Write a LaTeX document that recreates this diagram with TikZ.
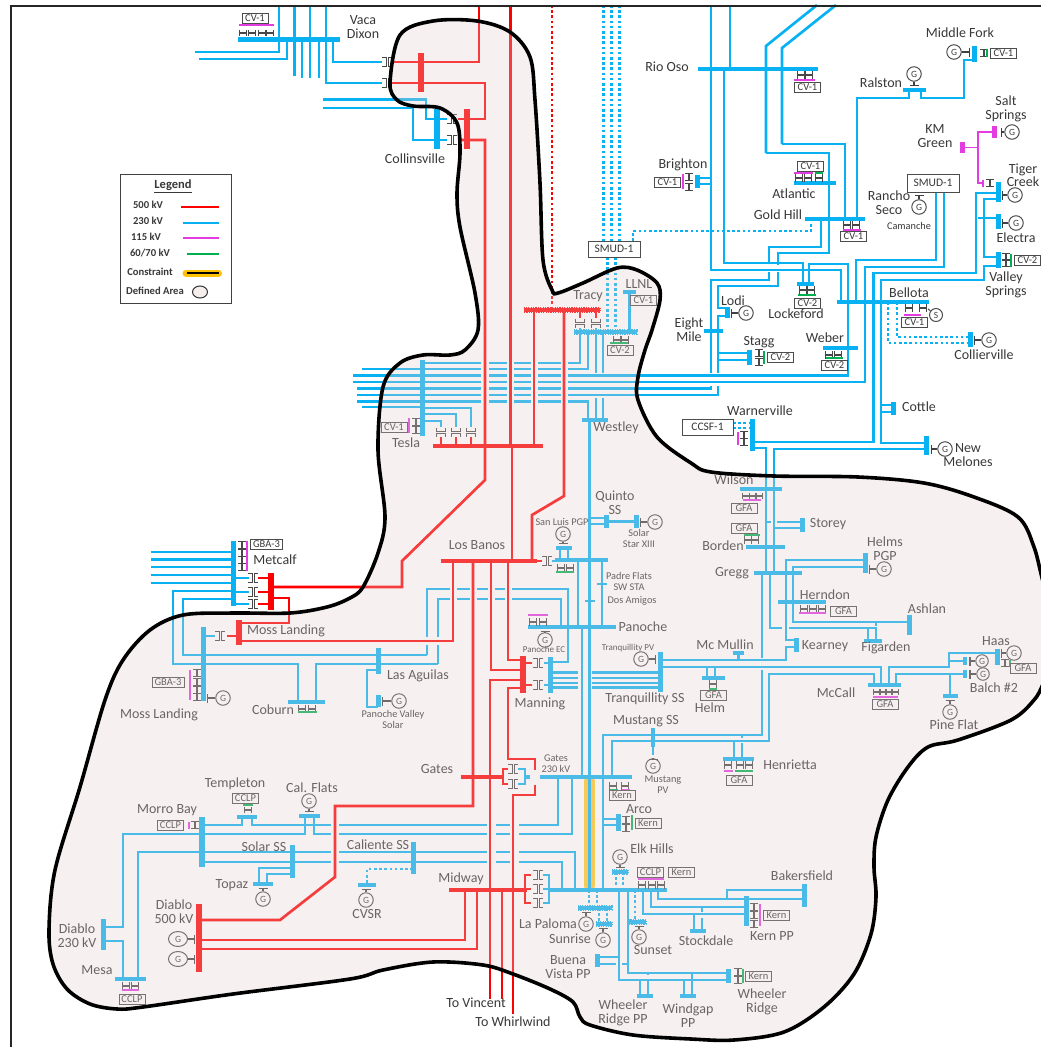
\documentclass[tikz,border=0pt]{standalone}
\usepackage{fontspec}
\setmainfont{Carlito}
\usetikzlibrary{arrows.meta,shapes.geometric}
\definecolor{lineb}{HTML}{08B2F2}
\definecolor{liner}{HTML}{FF0000}
\definecolor{linem}{HTML}{E33CE3}
\definecolor{lineg}{HTML}{00B050}
\definecolor{areatint}{RGB}{228,205,205}
\definecolor{gold}{HTML}{FFC000}
\tikzset{
    xfh/.pic={\draw[xfline] (-5,-4.5) -- (-1,-4.5) -- (-1,4.5) -- (-5,4.5) (5,-4.5) -- (1,-4.5) -- (1,4.5) -- (5,4.5);},
    xfv/.pic={\draw[xfline] (-4.5,-4.5) -- (-4.5,-1) -- (4.5,-1) -- (4.5,-4.5) (-4.5,4.5) -- (-4.5,1) -- (4.5,1) -- (4.5,4.5);}
}
\begin{document}
\begin{tikzpicture}[
        x=1pt, y=-1pt,
        lb/.style={draw=lineb, line width=2.7pt},
        lbdot/.style={lb, line width=2.8pt, dash pattern=on 2.6pt off 2.6pt},
        lr/.style={draw=liner, line width=2.7pt},
        lrdot/.style={lr, line width=2.8pt, dash pattern=on 2.6pt off 2.6pt},
        lm/.style={draw=linem, line width=1.2pt},
        hop/.style={draw=white, line width=#1},
        xfline/.style={draw=black!72, line width=1pt},
        bus/.style={rectangle, inner sep=0pt, outer sep=0pt},
        hb/.style={bus, fill=lineb, minimum width=#1, minimum height=4.5pt},
        vb/.style={bus, fill=lineb, minimum height=#1, minimum width=5pt},
        rhb/.style={bus, fill=liner, minimum width=#1, minimum height=4.5pt},
        rvb/.style={bus, fill=liner, minimum height=#1, minimum width=5.5pt},
        mvb/.style={bus, fill=linem, minimum height=#1, minimum width=2pt},
        mhb/.style={bus, fill=linem, minimum width=#1, minimum height=2pt},
        gvb/.style={bus, fill=lineg, minimum height=#1, minimum width=2pt},
        ghb/.style={bus, fill=lineg, minimum width=#1, minimum height=2pt},
        tooth/.style={draw=#1, line width=.8pt, dash pattern=on 1.2pt off 1.2pt},
        gen/.style={circle, draw=black!70, line width=1pt, minimum size=14.5pt, inner sep=0pt, font=\fontsize{9.5}{10}\selectfont, text=black!75},
        genw/.style={gen, ellipse, minimum width=19pt, minimum height=15pt},
        gs/.style={draw=black!75, line width=1.2pt, -{Bar[width=9pt,line width=1.3pt]}, shorten >=4pt},
        lab/.style={font=\fontsize{14}{13}\selectfont, text=black!78, align=center, inner sep=0pt},
        slab/.style={lab, font=\fontsize{10.3}{11}\selectfont},
        tlab/.style={lab, font=\fontsize{9}{10}\selectfont},
        tag/.style={rectangle, draw=black!70, fill=white, line width=.8pt, inner sep=0pt, minimum width=26pt, minimum height=10pt, text=black!78, font=\fontsize{10.5}{10}\selectfont},
        wtag/.style={tag, minimum width=#1, font=\fontsize{11.5}{10}\selectfont},
        leg/.style={lab, font=\bfseries\fontsize{10.6}{11}\selectfont}
    ]
    \useasboundingbox (0,0) rectangle (1041,1047);
    \clip (0,0) rectangle (1041,1047);

    \draw[gold!85!white, line width=11pt, line cap=round] (589,781) -- (589,886);

    \node[hb=102] (vacaDixon) at (289,39.5) {};
    \node[vb=40, minimum width=5.5pt] (collinsBlue) at (437,129) {};
    \node[rvb=40] (collinsRed) at (467,129) {};
    \node[rvb=39] (vacaRed) at (421,72.5) {};
    \node[vb=65] (metcalfBlue) at (233,573.5) {};
    \node[rvb=37] (metcalfRed) at (271,591.5) {};
    \node[rvb=25] (mossRed) at (239,632.5) {};
    \node[vb=74] (mossBlue) at (203,664) {};
    \node[hb=37] (coburn) at (306.5,702) {};
    \node[vb=26] (lasAguilas) at (378,661) {};
    \node[vb=12] (panocheSolar) at (378,701) {};
    \node[vb=76] (tesla) at (422,398) {};
    \node[rhb=110] (teslaRed) at (488,446) {};
    \node[rhb=76, tooth=liner] (tracyRed) at (562,310) {};
    \node[hb=63, tooth=lineb] (tracyBlue) at (605.5,332) {};
    \node[hb=13] (llnl) at (629.5,292) {};
    \node[hb=26] (westley) at (595,420) {};
    \node[rhb=96] (losBanos) at (489,561) {};
    \node[hb=53] (losBanosBlue) at (581.5,560) {};
    \node[hb=16] (sanLuis) at (564,548) {};
    \node[vb=13] (quinto) at (606,521.5) {};
    \node[vb=13] (solarStar) at (636,521.5) {};
    \node[hb=88] (panoche) at (572,627) {};
    \node[rvb=37] (manningRed) at (523,674.5) {};
    \node[vb=36] (manningBlue) at (550,675) {};
    \node[vb=40] (tranq) at (660,672) {};
    \node[hb=120] (rioOso) at (758,69) {};
    \node[hb=23] (ralston) at (914.5,90) {};
    \node[vb=16] (middleFork) at (974,54) {};
    \node[bus, fill=linem, minimum width=5pt, minimum height=12pt] (saltSprings) at (994,132) {};
    \node[bus, fill=linem, minimum width=5pt, minimum height=11pt] (kmGreen) at (962,147.5) {};
    \node[vb=20] (tigerCreek) at (998,192) {};
    \node[vb=15] (electra) at (998,221.5) {};
    \node[vb=16] (valleySprings) at (998,260) {};
    \node[hb=42] (atlantic) at (815,183) {};
    \node[hb=60] (goldHill) at (835,219) {};
    \node[vb=13] (brighton) at (697,181.5) {};
    \node[hb=17] (lockeford) at (805.5,284) {};
    \node[hb=92] (bellota) at (883,302) {};
    \node[hb=35] (weber) at (840.5,348) {};
    \node[vb=15] (collierville) at (970,339.5) {};
    \node[vb=11] (lodi) at (727,312.5) {};
    \node[hb=19] (eightMile) at (713.5,331) {};
    \node[vb=15] (stagg) at (749,357.5) {};
    \node[vb=13] (cottle) at (893,408.5) {};
    \node[vb=19] (newMelones) at (926.7,445.5) {};
    \node[vb=32] (warnerville) at (752,435) {};
    \node[hb=42] (wilson) at (761,489) {};
    \node[hb=39] (borden) at (765.5,547) {};
    \node[hb=48] (gregg) at (778,573) {};
    \node[vb=14] (storey) at (802,525) {};
    \node[vb=20] (helms) at (865,563) {};
    \node[hb=48] (herndon) at (802,602) {};
    \node[vb=20] (ashlan) at (909,625) {};
    \node[hb=18] (figarden) at (873,641) {};
    \node[vb=14] (kearney) at (796,645) {};
    \node[hb=11] (mcMullin) at (738.5,653) {};
    \node[hb=23] (helm) at (713.5,678) {};
    \node[hb=33] (mcCall) at (884.5,685) {};
    \node[vb=16] (haas) at (997,657) {};
    \node[vb=8, minimum width=3.5pt] (balchA) at (965,661) {};
    \node[vb=8, minimum width=3.5pt] (balchB) at (965,674) {};
    \node[hb=15] (pineFlat) at (950.5,696) {};
    \node[vb=19, minimum width=4pt] (mustang) at (653,737.5) {};
    \node[hb=31] (henrietta) at (738.5,759) {};
    \node[rhb=42] (gatesRed) at (482,777) {};
    \node[hb=107] (gatesBlue) at (578.5,777) {};
    \node[vb=17] (arco) at (618,822.5) {};
    \node[rhb=78] (midwayRed) at (488,890) {};
    \node[hb=119] (midwayBlue) at (607.5,890) {};
    \node[hb=16, tooth=lineb] (elkHills) at (620,872) {};
    \node[hb=34, tooth=lineb] (laPaloma) at (595,908) {};
    \node[hb=16, tooth=lineb] (sunrise) at (604,924) {};
    \node[hb=17, tooth=lineb] (sunset) at (637.5,922) {};
    \node[vb=13] (buenaVista) at (597,960.5) {};
    \node[hb=16] (wheelerPP) at (645,996) {};
    \node[hb=16] (windgap) at (688,996) {};
    \node[vb=14] (wheeler) at (728,976) {};
    \node[hb=16] (stockdale) at (698,931) {};
    \node[vb=30] (kernPP) at (746,911) {};
    \node[vb=23] (bakersfield) at (804,895.5) {};
    \node[vb=50, minimum width=5.5pt] (morroBay) at (202,842) {};
    \node[hb=20] (templeton) at (247,817) {};
    \node[hb=21] (calFlats) at (309.5,816) {};
    \node[vb=33] (solarSS) at (292,861.5) {};
    \node[hb=20] (topaz) at (263,884) {};
    \node[vb=32] (calienteSS) at (413,858) {};
    \node[hb=18] (cvsr) at (367,885) {};
    \node[rvb=68] (diablo) at (199,938) {};
    \node[vb=31] (diabloLow) at (103,934.5) {};
    \node[hb=31] (mesa) at (130.5,979) {};

    \draw[lb] (279,5) -- (279,52) -- (195,52);
    \draw[lb] (287,0 |- vacaDixon) -- (287,59) -- (199,59);
    \draw[lb] (294.5,5) -- (294.5,76);
    \draw[lb] (302,0 |- vacaDixon) -- (302,78);
    \draw[lb] (310,5) -- (310,78);
    \draw[lb] (319,0 |- vacaDixon) -- (319,78);
    \draw[lb] (326,5) -- (326,83) -- (382,83);
    \draw[lb] (333,0 |- vacaDixon) -- (333,62) -- (382,62);
    \draw[lb] (323,99.5) -- (426,99.5) -- (426,119) -- (447,119);
    \draw[lb] (323,108) -- (413,108) -- (413,140) -- (447,140);

    \draw[lbdot] (603.5,5) -- (603.5,241);
    \draw[lbdot] (611.5,5) -- (611.5,241);
    \draw[lbdot] (619.5,5) -- (619.5,241);
    \draw[lbdot] (607.5,257) -- (607.5,0 |- tracyBlue);
    \draw[lbdot] (615.5,257) -- (615.5,0 |- tracyBlue);
    \draw[lbdot] (633,241) -- (633,231) -- (811,231) -- (811,0 |- goldHill);

    \draw[lb] (711,5) -- (711,270) -- (841,270) -- (841,0 |- bellota);
    \draw[lb] (730,5) -- (730,0 |- rioOso);
    \draw[lb] (724,0 |- rioOso) -- (724,263) -- (803,263) -- (803,0 |- lockeford);
    \draw[lb] (809,0 |- lockeford) -- (809,264) -- (848,264) -- (848,375.5) -- (353,375.5);
    \draw[lb] (856,0 |- bellota) -- (856,260) -- (936,260) -- (936,191);
    \draw[lb] (353,382) -- (865,382) -- (865,267) -- (944,267) -- (944,191);
    \draw[lb] (warnerville |- 0,442) -- (873.5,442) -- (873.5,273) -- (976,273) -- (976,193) -- (tigerCreek |- 0,193);
    \draw[lb] (newMelones |- 0,443) -- (881,443) -- (881,280) -- (984,280) -- (984,266) -- (valleySprings |- 0,266);
    \draw[lb] (881,405) -- (cottle |- 0,405);
    \draw[lb] (881,412) -- (cottle |- 0,412);
    \draw[lb] (tigerCreek |- 0,199) -- (984,199) -- (984,257) -- (valleySprings |- 0,257);
    \draw[lb] (978,218) -- (electra |- 0,218);
    \draw[lb] (782,144) -- (782,48) -- (836,5);
    \draw[lb] (766,153) -- (766,46) -- (817,5);
    \draw[lb] (782,144) -- (845,144) -- (845,0 |- goldHill);
    \draw[lb] (766,153) -- (829,153) -- (829,253) -- (778,253) -- (778,265);
    \draw[lb] (821,0 |- goldHill) -- (821,247) -- (769,247) -- (769,263);
    \draw[lb] (769,272) -- (769,280) -- (711,280) -- (711,373);
    \draw[lb] (711,386) -- (711,388.5) -- (357,388.5);
    \draw[lb] (778,272) -- (778,286) -- (718,286) -- (718,308) -- (lodi |- 0,308);
    \draw[lb] (lodi |- 0,316) -- (718,316) -- (718,373);
    \draw[lb] (718,386) -- (718,395) -- (357,395);
    \draw[lb] (718,353) -- (stagg |- 0,353);
    \draw[lb] (718,360) -- (stagg |- 0,360);
    \draw[lb] (brighton |- 0,178) -- (711,178);
    \draw[lb] (brighton |- 0,184) -- (711,184);
    \draw[lb] (857,0 |- goldHill) -- (857,98) -- (909,98) -- (909,0 |- ralston);
    \draw[lb] (921,0 |- ralston) -- (921,98) -- (964,98) -- (964,60) -- (middleFork |- 0,60);

    \draw[lb] (tesla |- 0,363) -- (580,363) -- (580,328);
    \draw[lb] (362,369) -- (588,369) -- (588,0 |- tracyBlue);
    \draw[lb] (596,328) -- (596,373);
    \draw[lb] (603,332) -- (603,373);
    \draw[lb] (596,398) -- (596,0 |- westley);
    \draw[lb] (603,398) -- (603,0 |- westley);
    \draw[lb] (357,401.5) -- (588,401.5) -- (588,0 |- westley);
    \draw[lb] (362,407) -- (tesla |- 0,407);
    \draw[lb] (tesla |- 0,408) -- (471,408) -- (471,427);
    \draw[lb] (tesla |- 0,414) -- (456,414) -- (456,427);
    \draw[lb] (tesla |- 0,421) -- (441,421) -- (441,427);
    \draw[lb] (llnl) -- (629.5,0 |- tracyBlue);
    \draw[lb] (589.5,0 |- westley) -- (589.5,0 |- midwayBlue);
    \draw[lb] (578,0 |- losBanosBlue) -- (578,0 |- panoche);
    \draw[lb] (582,0 |- panoche) -- (582,0 |- gatesBlue);
    \draw[lb] (602,0 |- losBanosBlue) -- (602,0 |- panoche);
    \draw[lb] (597,584) -- (607,584);
    \draw[lb] (585,601) -- (595,601);
    \draw[lb] (589.5,518) -- (quinto |- 0,518);
    \draw[lb] (589.5,524) -- (quinto |- 0,524);
    \draw[lb] (quinto) -- (solarStar);
    \draw[lb] (560,0 |- sanLuis) -- (560,0 |- losBanosBlue);
    \draw[lb] (568,0 |- sanLuis) -- (568,0 |- losBanosBlue);

    \draw[lb] (427,655) -- (427,589) -- (568,589) -- (568,662) -- (manningBlue |- 0,662);
    \draw[lb] (438,664) -- (438,599) -- (561,599) -- (561,0 |- panoche);
    \draw[lb] (427,655) -- (183,655) -- (183,599) -- (metcalfBlue |- 0,599);
    \draw[lb] (438,664) -- (316,664) -- (316,0 |- coburn);
    \draw[lb] (298,0 |- coburn) -- (298,664) -- (173,664) -- (173,591) -- (metcalfBlue |- 0,591);
    \draw[lb] (151,552) -- (metcalfBlue |- 0,552);
    \draw[lb] (151,559.5) -- (metcalfBlue |- 0,559.5);
    \draw[lb] (151,567) -- (metcalfBlue |- 0,567);
    \draw[lb] (151,575) -- (metcalfBlue |- 0,575);
    \draw[lb] (151,583) -- (metcalfBlue |- 0,583);
    \draw[lb] (metcalfBlue |- 0,578) -- (249,578);
    \draw[lb] (metcalfBlue |- 0,592) -- (249,592);
    \draw[lb] (metcalfBlue |- 0,604) -- (249,604);
    \draw[lb] (mossBlue |- 0,636) -- (215,636);
    \draw[lb] (lasAguilas |- 0,670) -- (367,670) -- (367,707) -- (panocheSolar |- 0,707);

    \draw[lb] (manningBlue |- 0,672.7) -- (578,672.7);
    \draw[lb] (manningBlue |- 0,678) -- (578,678);
    \draw[lb] (manningBlue |- 0,683) -- (578,683);
    \draw[lb] (manningBlue |- 0,687.7) -- (578,687.7);
    \draw[lb] (592,672.7) -- (tranq |- 0,672.7);
    \draw[lb] (592,678) -- (tranq |- 0,678);
    \draw[lb] (592,683) -- (tranq |- 0,683);
    \draw[lb] (592,687.7) -- (tranq |- 0,687.7);
    \draw[lb] (manningBlue |- 0,663) -- (544,663);
    \draw[lb] (manningBlue |- 0,685) -- (544,685);

    \draw[lb] (tranq |- 0,660) -- (786,660) -- (786,647) -- (kearney |- 0,647);
    \draw[lb] (kearney |- 0,640) -- (786,640) -- (786,560) -- (helms |- 0,560);
    \draw[lb] (tranq |- 0,667) -- (881,667) -- (881,0 |- mcCall);
    \draw[lb] (707,667) -- (707,0 |- helm);
    \draw[lb] (715,667) -- (715,0 |- helm);
    \draw[lb] (mcMullin) -- (738.5,660);
    \draw[lb] (ashlan |- 0,622) -- (793,622) -- (793,567) -- (helms |- 0,567);
    \draw[lb] (789,628) -- (876,628) -- (876,0 |- figarden);
    \draw[lb] (868,628) -- (868,0 |- figarden);
    \draw[lb] (876,622) -- (876,626);
    \draw[lb] (762,0 |- gregg) -- (762,658);
    \draw[lb] (762,670) -- (762,735) -- (603,735) -- (603,0 |- midwayBlue);
    \draw[lb] (770,0 |- gregg) -- (770,628) -- (782,628);
    \draw[lb] (warnerville |- 0,448) -- (766,448) -- (766,0 |- gregg);
    \draw[lb] (newMelones |- 0,449) -- (774,449) -- (774,0 |- gregg);
    \draw[lb] (766,522) -- (771,522);
    \draw[lb] (777,522) -- (storey |- 0,522);
    \draw[lb] (774,528) -- (storey |- 0,528);
    \draw[lb] (874,0 |- mcCall) -- (874,674) -- (769,674) -- (769,741) -- (612,741) -- (612,0 |- gatesBlue);
    \draw[lb] (889,0 |- mcCall) -- (889,667) -- (949,667) -- (949,653) -- (haas |- 0,653);
    \draw[lb] (949,661) -- (balchA);
    \draw[lb] (896,0 |- mcCall) -- (896,674) -- (balchB);
    \draw[lb] (950,674) -- (950,0 |- pineFlat);
    \draw[lb] (734,741) -- (734,0 |- henrietta);
    \draw[lb] (742,735) -- (742,738);
    \draw[lb] (742,743) -- (742,0 |- henrietta);
    \draw[lb] (653,747) -- (653,755);

    \draw[lb] (603,819) -- (arco |- 0,819);
    \draw[lb] (603,825) -- (arco |- 0,825);
    \draw[lb] (558,0 |- gatesBlue) -- (558,825) -- (252,825) -- (252,0 |- templeton);
    \draw[lb] (572,0 |- gatesBlue) -- (572,834) -- (314,834) -- (314,0 |- calFlats);
    \draw[lb] (575,0 |- midwayBlue) -- (575,852) -- (138,852) -- (138,0 |- mesa);
    \draw[lb] (562,0 |- midwayBlue) -- (562,862) -- (morroBay |- 0,862);
    \draw[lb] (morroBay |- 0,825) -- (242,825) -- (242,0 |- templeton);
    \draw[lb] (305,0 |- calFlats) -- (305,834) -- (123,834) -- (123,927) -- (diabloLow |- 0,927);
    \draw[lb] (diabloLow |- 0,941) -- (123,941) -- (123,0 |- mesa);
    \draw[lb] (solarSS |- 0,868) -- (259,868) -- (259,0 |- topaz);
    \draw[lb] (solarSS |- 0,874) -- (267,874) -- (267,0 |- topaz);
    \draw[lbdot] (calienteSS |- 0,869) -- (367,869) -- (367,0 |- cvsr);

    \draw[lb] (518,769) -- (525,769) -- (525,784) -- (518,784);
    \draw[lb] (543,875) -- (549,875) -- (549,903) -- (543,903);
    \draw[lb] (543,889) -- (549,889);
    \draw[lb] (619,0 |- midwayBlue) -- (619,980) -- (wheeler |- 0,980);
    \draw[lb] (628,0 |- midwayBlue) -- (628,973) -- (wheeler |- 0,973);
    \draw[lb] (622,964) -- (628,964);
    \draw[lb] (buenaVista |- 0,957) -- (619,957);
    \draw[lb] (buenaVista |- 0,964) -- (616,964);
    \draw[lb] (640,980) -- (640,0 |- wheelerPP);
    \draw[lb] (648,973) -- (648,975);
    \draw[lb] (648,980) -- (648,0 |- wheelerPP);
    \draw[lb] (684,980) -- (684,0 |- windgap);
    \draw[lb] (692,973) -- (692,0 |- windgap);
    \draw[lb] (643,0 |- midwayBlue) -- (643,914) -- (kernPP |- 0,914);
    \draw[lb] (651,0 |- midwayBlue) -- (651,907) -- (kernPP |- 0,907);
    \draw[lb] (658,0 |- midwayBlue) -- (658,899) -- (bakersfield |- 0,899);
    \draw[lb] (727,899) -- (727,890) -- (bakersfield |- 0,890);
    \draw[lb] (694,914) -- (694,0 |- stockdale);
    \draw[lb] (702,918) -- (702,0 |- stockdale);
    \draw[lb] (702,907) -- (702,912);
    \draw[lbdot] (616,0 |- elkHills) -- (616,0 |- midwayBlue);
    \draw[lbdot] (623,0 |- elkHills) -- (623,0 |- midwayBlue);
    \draw[lbdot] (589,0 |- midwayBlue) -- (589,0 |- laPaloma);
    \draw[lbdot] (597,0 |- midwayBlue) -- (597,0 |- laPaloma);
    \draw[lbdot] (599,0 |- laPaloma) -- (599,0 |- sunrise);
    \draw[lbdot] (607,0 |- laPaloma) -- (607,0 |- sunrise);
    \draw[lbdot] (635,0 |- midwayBlue) -- (635,0 |- sunset);
    \draw[lbdot] (888,0 |- bellota) -- (888,343) -- (collierville |- 0,343);
    \draw[lbdot] (897,0 |- bellota) -- (897,337) -- (collierville |- 0,337);
    \draw[lbdot] (733,423) -- (warnerville |- 0,423);
    \draw[lbdot] (733,428) -- (warnerville |- 0,428);

    \draw[hop=8pt] (485,358) -- (485,405);
    \draw[hop=7pt] (510.5,358) -- (510.5,405);
    \draw[hop=7pt] (534,358) -- (534,405);
    \draw[hop=7pt] (564,358) -- (564,405);
    \draw[hop=7pt] (453,586) -- (453,602);
    \draw[hop=7pt] (473,586) -- (473,602);
    \draw[hop=7pt] (491,586) -- (491,602);
    \draw[hop=7pt] (508,586) -- (508,602);
    \draw[hop=8pt] (423,641) -- (442,641);
    \draw[hop=9pt] (491,822) -- (491,866);
    \draw[hop=9pt] (514,822) -- (514,866);
    \draw[hop=8pt] (335,822) -- (335,866);
    \draw[hop=10pt] (535,771) -- (535,784);

    \draw[lr] (collinsRed |- 0,119) -- (485,119) -- (485,83) -- (392,83);
    \draw[lr] (392,62) -- (479,62) -- (479,5);
    \draw[lr] (458,119) -- (collinsRed |- 0,119);
    \draw[lr] (458,140) -- (485,140) -- (485,480) -- (402,561) -- (402,587) -- (metcalfRed |- 0,587);
    \draw[lr] (510.5,5) -- (510.5,0 |- teslaRed);
    \draw[lr] (512,0 |- teslaRed) -- (512,0 |- losBanos);
    \draw[lr] (534,0 |- tracyRed) -- (534,0 |- teslaRed);
    \draw[lr] (564,0 |- tracyRed) -- (564,496) -- (532,515) -- (532,0 |- losBanos);
    \draw[lrdot] (552,5) -- (552,0 |- tracyRed);
    \draw[lr] (580,0 |- tracyRed) -- (580,318);
    \draw[lr] (596,0 |- tracyRed) -- (596,318);
    \draw[lr] (441,437) -- (441,0 |- teslaRed);
    \draw[lr] (456,437) -- (456,0 |- teslaRed);
    \draw[lr] (471,437) -- (471,0 |- teslaRed);
    \draw[lr] (537,561) -- (542,561);
    \draw[lb] (552,561) -- (555,561);
    \draw[lr] (453,0 |- losBanos) -- (453,641) -- (mossRed |- 0,641);
    \draw[lr] (473,0 |- losBanos) -- (473,806) -- (335,806) -- (335,877) -- (280,920) -- (diablo |- 0,920);
    \draw[lr] (491,0 |- losBanos) -- (491,670) -- (manningRed |- 0,670);
    \draw[lr] (manningRed |- 0,680) -- (490,680) -- (490,999);
    \draw[lr] (508,0 |- losBanos) -- (508,660) -- (manningRed |- 0,660);
    \draw[lr] (manningRed |- 0,688) -- (508,688) -- (508,759) -- (535,759) -- (535,770);
    \draw[lr] (535,785) -- (535,795) -- (513,795) -- (513,1014);
    \draw[lr] (diablo |- 0,940) -- (465,940) -- (465,0 |- midwayRed);
    \draw[lr] (diablo |- 0,949) -- (477,949) -- (477,0 |- midwayRed);
    \draw[lr] (502,0 |- midwayRed) -- (502,999);
    \draw[lr] (manningRed |- 0,663) -- (532,663);
    \draw[lr] (manningRed |- 0,685) -- (532,685);
    \draw[lr] (metcalfRed |- 0,578) -- (258,578);
    \draw[lr] (metcalfRed |- 0,592) -- (258,592);
    \draw[lr] (metcalfRed |- 0,604) -- (258,604);
    \draw[lr] (metcalfRed |- 0,598) -- (289,598) -- (289,623) -- (mossRed |- 0,623);
    \draw[lr] (227,636) -- (mossRed |- 0,636);
    \draw[lr] (508,769) -- (503,769) -- (503,784) -- (508,784);
    \draw[lr] (531,875) -- (525,875) -- (525,903) -- (531,903);
    \draw[lr] (525,889) -- (531,889);

    \draw[lm] (saltSprings) -- (978,132) -- (978,183) -- (983,183);
    \draw[lm] (kmGreen) -- (978,147.5);
    \node[mvb=7] (tigerBar) at (983,183) {};

    \pic at (387,62) {xfh};
    \pic at (387,83) {xfh};
    \pic at (452,119) {xfh};
    \pic at (452,140) {xfh};
    \pic at (253,578) {xfh};
    \pic at (253,592) {xfh};
    \pic at (253,604) {xfh};
    \pic at (220,636) {xfh};
    \pic at (547,561) {xfh};
    \pic at (538,663) {xfh};
    \pic at (538,685) {xfh};
    \pic at (513,769) {xfh};
    \pic at (513,784) {xfh};
    \pic at (538,875) {xfh};
    \pic at (538,889) {xfh};
    \pic at (538,903) {xfh};
    \path (242,545) pic[scale=.8] {xfh} (242,553) pic[scale=.8] {xfh} (242,560) pic[scale=.8] {xfh} (242,567) pic[scale=.8] {xfh};
    \path (197,673) pic[scale=.8] {xfh} (197,682) pic[scale=.8] {xfh} (197,690) pic[scale=.8] {xfh} (197,697) pic[scale=.8] {xfh};
    \path (416,422) pic[scale=.8] {xfh} (416,430) pic[scale=.8] {xfh};
    \path (689,177) pic[scale=.8] {xfh} (689,187) pic[scale=.8] {xfh};
    \path (984,53) pic[scale=.8] {xfh} (990,183) pic[scale=.8] {xfh};
    \path (1006,257) pic[scale=.8] {xfh} (1006,263) pic[scale=.8] {xfh};
    \path (759,353) pic[scale=.8] {xfh} (759,362) pic[scale=.8] {xfh};
    \path (744,435) pic[scale=.8] {xfh} (744,442) pic[scale=.8] {xfh};
    \path (1005,663) pic[scale=.8] {xfh};
    \path (626,820) pic[scale=.8] {xfh} (626,828) pic[scale=.8] {xfh};
    \path (195,825) pic[scale=.8] {xfh};
    \path (754,907) pic[scale=.8] {xfh} (754,915) pic[scale=.8] {xfh} (754,924) pic[scale=.8] {xfh};
    \path (738,972) pic[scale=.8] {xfh} (738,980) pic[scale=.8] {xfh};
    \path (243,33) pic[scale=.75] {xfv} (252,33) pic[scale=.75] {xfv} (262,33) pic[scale=.75] {xfv} (270,33) pic[scale=.75] {xfv};
    \path (580,323) pic {xfv} (596,323) pic {xfv} (617,340) pic[scale=.8] {xfv} (625,340) pic[scale=.8] {xfv};
    \path (441,432) pic {xfv} (456,432) pic {xfv} (471,432) pic {xfv};
    \path (561,568) pic[scale=.8] {xfv} (570,568) pic[scale=.8] {xfv};
    \path (533,622) pic[scale=.8] {xfv} (543,622) pic[scale=.8] {xfv};
    \path (801,75) pic[scale=.8] {xfv} (809,75) pic[scale=.8] {xfv};
    \path (799,178) pic[scale=.8] {xfv} (808,178) pic[scale=.8] {xfv} (819,178) pic[scale=.8] {xfv};
    \path (847,225) pic[scale=.8] {xfv} (856,225) pic[scale=.8] {xfv};
    \path (803,290) pic[scale=.8] {xfv} (811,290) pic[scale=.8] {xfv};
    \path (909,308) pic[scale=.8] {xfv} (923,308) pic[scale=.8] {xfv};
    \path (829,355) pic[scale=.8] {xfv} (838,355) pic[scale=.8] {xfv};
    \path (746,496) pic[scale=.75] {xfv} (753,496) pic[scale=.75] {xfv} (759,496) pic[scale=.75] {xfv};
    \path (748,540) pic[scale=.8] {xfv} (755,540) pic[scale=.8] {xfv};
    \path (804,609) pic[scale=.8] {xfv} (813,609) pic[scale=.8] {xfv} (822,609) pic[scale=.8] {xfv};
    \path (877,692) pic[scale=.7] {xfv} (883,692) pic[scale=.7] {xfv} (889,692) pic[scale=.7] {xfv} (895,692) pic[scale=.7] {xfv};
    \path (713,684) pic[scale=.8] {xfv};
    \path (728,765) pic[scale=.8] {xfv} (740,765) pic[scale=.8] {xfv} (749,765) pic[scale=.8] {xfv};
    \path (613,786) pic[scale=.8] {xfv} (625,786) pic[scale=.8] {xfv};
    \path (642,885) pic[scale=.8] {xfv} (652,885) pic[scale=.8] {xfv} (661,885) pic[scale=.8] {xfv};
    \path (248,810) pic[scale=.7] {xfv} (302,709) pic[scale=.8] {xfv} (312,709) pic[scale=.8] {xfv};
    \path (126,986) pic[scale=.8] {xfv} (135,986) pic[scale=.8] {xfv};

    \node[mhb=35] (barVaca) at (256,24.5) {};
    \node[mvb=30] (barMetcalf) at (247,556) {};
    \node[mvb=30] (barMoss) at (190,685) {};
    \node[mvb=15] (barTesla) at (409,425.5) {};
    \node[mvb=15] (barBrighton) at (683,181.5) {};
    \node[mhb=21] (barRio) at (804.5,80) {};
    \node[mhb=19] (barAtlantic) at (803.5,173) {};
    \node[ghb=8] (barAtlanticG) at (819,173) {};
    \node[mhb=18] (barGold) at (852,230) {};
    \node[ghb=18] (barLockeford) at (807,295) {};
    \node[mhb=17] (barBellota) at (912.5,315) {};
    \node[ghb=17] (barWeber) at (834.5,358) {};
    \node[mvb=13] (barWarner) at (738,438.5) {};
    \node[gvb=13] (barStagg) at (764,357.5) {};
    \node[gvb=13] (barValley) at (1011,260) {};
    \node[gvb=8] (barMiddle) at (987,53) {};
    \node[ghb=18] (barTracy) at (619,343) {};
    \node[ghb=18] (barSanLuis) at (565,572) {};
    \node[mhb=20] (barPanoche) at (538,615) {};
    \node[mhb=18] (barWilson) at (752,500) {};
    \node[ghb=16] (barBorden) at (752,535) {};
    \node[mhb=27] (barHerndon) at (812.5,613) {};
    \node[mhb=25] (barMcCall) at (885.5,697) {};
    \node[ghb=8] (barHelm) at (713,689) {};
    \node[gvb=7] (barHaas) at (1010,663) {};
    \node[mhb=9] (barHenriettaM) at (728.5,771) {};
    \node[ghb=18] (barHenriettaG) at (744,771) {};
    \node[ghb=8] (barKernG) at (614,790) {};
    \node[mhb=8] (barKernM) at (626,790) {};
    \node[gvb=15] (barArco) at (632,822.5) {};
    \node[mhb=26] (barElk) at (651,879) {};
    \node[mvb=22] (barKernPP) at (760,915) {};
    \node[gvb=14] (barWheeler) at (743,976) {};
    \node[ghb=10] (barTempleton) at (248,805) {};
    \node[mvb=7] (barMorro) at (189,825.5) {};
    \node[ghb=19] (barCoburn) at (307.5,712) {};
    \node[mhb=17] (barMesa) at (130.5,990) {};

    \node[gen] (gMiddle) at (954,52) {G};
    \node[gen] (gRalston) at (914,74) {G};
    \node[gen] (gSalt) at (1012,132) {G};
    \node[gen] (gRancho) at (919,207) {G};
    \node[gen] (gTiger) at (1015,195) {G};
    \node[gen] (gElectra) at (1016,223) {G};
    \node[gen] (gLodi) at (746,313) {G};
    \node[gen] (gColl) at (989,340) {G};
    \node[gen] (gMelones) at (945,449) {G};
    \node[gen] (gSolar) at (655,522) {G};
    \node[gen] (gSanLuis) at (563,534) {G};
    \node[gen] (gPanoche) at (545,640) {G};
    \node[gen] (gTranq) at (641,659) {G};
    \node[gen] (gHelms) at (884,569) {G};
    \node[gen] (gHaas) at (1014,653) {G};
    \node[gen, minimum size=12.5pt] (gBalchA) at (982,661) {G};
    \node[gen, minimum size=12.5pt] (gBalchB) at (983,674) {G};
    \node[gen] (gPine) at (950,712) {G};
    \node[gen] (gMoss) at (223,698) {G};
    \node[gen] (gSolarV) at (399,701) {G};
    \node[gen] (gMustang) at (653,766) {G};
    \node[gen] (gElk) at (620,857) {G};
    \node[gen] (gPaloma) at (586,924) {G};
    \node[gen] (gSunrise) at (603,940) {G};
    \node[gen] (gSunset) at (639,937) {G};
    \node[gen] (gCalFlats) at (309,801) {G};
    \node[gen] (gTopaz) at (263,899) {G};
    \node[gen] (gCvsr) at (366,900) {G};
    \node[genw] (gDiabloA) at (178,939) {G};
    \node[genw] (gDiabloB) at (178,959) {G};
    \node[gen, minimum size=13pt] (gBellota) at (936,315) {S};

    \draw[gs] (gMiddle) -- (gMiddle -| middleFork);
    \draw[gs] (gRalston) -- (gRalston |- ralston);
    \draw[gs] (gSalt) -- (saltSprings);
    \draw[gs] (gRancho) -- (gRancho |- 0,191);
    \draw[gs] (gTiger) -- (gTiger -| tigerCreek);
    \draw[gs] (gElectra) -- (gElectra -| electra);
    \draw[gs] (gLodi) -- (gLodi -| lodi);
    \draw[gs] (gColl) -- (gColl -| collierville);
    \draw[gs] (gMelones) -- (gMelones -| newMelones);
    \draw[gs] (gSolar) -- (gSolar -| solarStar);
    \draw[gs] (gSanLuis) -- (gSanLuis |- sanLuis);
    \draw[gs] (gPanoche) -- (gPanoche |- panoche);
    \draw[gs] (gTranq) -- (gTranq -| tranq);
    \draw[gs] (gHelms) -- (gHelms -| helms);
    \draw[gs] (gHaas) -- (gHaas -| haas);
    \draw[gs, shorten >=2.5pt] (gBalchA) -- (balchA);
    \draw[gs, shorten >=2.5pt] (gBalchB) -- (balchB);
    \draw[gs] (gPine) -- (gPine |- pineFlat);
    \draw[gs] (gMoss) -- (gMoss -| mossBlue);
    \draw[gs] (gSolarV) -- (gSolarV -| panocheSolar);
    \draw[gs] (gMustang) -- (gMustang |- 0,755);
    \draw[gs] (gElk) -- (gElk |- elkHills);
    \draw[gs] (gPaloma) -- (gPaloma |- laPaloma);
    \draw[gs] (gSunrise) -- (gSunrise |- sunrise);
    \draw[gs] (gSunset) -- (gSunset |- sunset);
    \draw[gs] (gCalFlats) -- (gCalFlats |- calFlats);
    \draw[gs] (gTopaz) -- (gTopaz |- topaz);
    \draw[gs] (gCvsr) -- (gCvsr |- cvsr);
    \draw[gs] (gDiabloA) -- (gDiabloA -| diablo);
    \draw[gs] (gDiabloB) -- (gDiabloB -| diablo);
    \draw[xfline] (gBellota) -- (928,309);

    \node[tag] (tagVaca) at (255,18) {CV-1};
    \node[tag] (tagLlnl) at (643.5,300) {CV-1};
    \node[tag] (tagTracy) at (620,350) {CV-2};
    \node[tag] (tagTesla) at (394,427.5) {CV-1};
    \node[tag] (tagBrighton) at (667.5,182) {CV-1};
    \node[tag] (tagRio) at (807.5,87) {CV-1};
    \node[tag] (tagAtlantic) at (810.5,166) {CV-1};
    \node[tag] (tagGold) at (853.5,236.5) {CV-1};
    \node[tag] (tagMiddle) at (1003.5,53) {CV-1};
    \node[tag] (tagLockeford) at (807.5,303) {CV-2};
    \node[tag] (tagBellota) at (914.5,322.5) {CV-1};
    \node[tag] (tagWeber) at (834.5,365.5) {CV-2};
    \node[tag] (tagStagg) at (780.5,357.5) {CV-2};
    \node[tag] (tagValley) at (1027.5,260.5) {CV-2};
    \node[wtag=52pt, minimum height=18pt] (tagSmudN) at (933,183) {SMUD-1};
    \node[wtag=52pt, minimum height=16pt] (tagSmudW) at (614,249) {SMUD-1};
    \node[wtag=51pt, minimum height=16pt] (tagCcsf) at (707.5,427) {CCSF-1};
    \node[tag, minimum width=32pt] (tagMetcalf) at (266.5,544) {GBA-3};
    \node[tag, minimum width=32pt] (tagMoss) at (168,682.5) {GBA-3};
    \node[tag] (tagWilson) at (744,508) {GFA};
    \node[tag] (tagBorden) at (744,528) {GFA};
    \node[tag] (tagHerndon) at (843.5,611.5) {GFA};
    \node[tag] (tagHelm) at (713.5,695) {GFA};
    \node[tag] (tagMcCall) at (885,704.5) {GFA};
    \node[tag] (tagHaas) at (1023,668) {GFA};
    \node[tag] (tagHenrietta) at (739,780) {GFA};
    \node[tag] (tagKernG) at (622,795.5) {Kern};
    \node[tag] (tagArco) at (648,823.5) {Kern};
    \node[tag] (tagElkK) at (681.5,872.5) {Kern};
    \node[tag] (tagElkC) at (650.5,872.5) {CCLP};
    \node[tag] (tagKernPP) at (776.5,915) {Kern};
    \node[tag] (tagWheeler) at (758.5,976) {Kern};
    \node[tag] (tagMorro) at (170.5,825) {CCLP};
    \node[tag] (tagTempleton) at (245.5,798) {CCLP};
    \node[tag] (tagMesa) at (132,999.5) {CCLP};

    \node[lab] (tVaca) at (363,27) {Vaca\\[1pt]Dixon};
    \node[lab] (tCollins) at (415,158.5) {Collinsville};
    \node[lab] (tRioOso) at (667,67) {Rio Oso};
    \node[lab] (tBrighton) at (683,165) {Brighton};
    \node[lab] (tMiddle) at (960,33) {Middle Fork};
    \node[lab] (tRalston) at (881,83) {Ralston};
    \node[lab] (tSalt) at (1006,109) {Salt\\[1pt]Springs};
    \node[lab] (tKm) at (935,136.5) {KM\\[1pt]Green};
    \node[lab] (tTiger) at (1023,175) {Tiger\\Creek};
    \node[lab] (tAtlantic) at (794,194) {Atlantic};
    \node[lab] (tGold) at (778,215) {Gold Hill};
    \node[lab] (tRancho) at (889,203) {Rancho\\[1pt]Seco};
    \node[slab] (tCamanche) at (909,226) {Camanche};
    \node[lab] (tElectra) at (1016,238) {Electra};
    \node[lab] (tValley) at (1006,285) {Valley\\[1pt]Springs};
    \node[lab] (tBellota) at (909,293) {Bellota};
    \node[lab] (tLockeford) at (796,314) {Lockeford};
    \node[lab] (tLodi) at (733,301) {Lodi};
    \node[lab] (tEight) at (689,330) {Eight\\[1pt]Mile};
    \node[lab] (tStagg) at (759,342) {Stagg};
    \node[lab] (tWeber) at (825,338) {Weber};
    \node[lab] (tColl) at (984,355) {Collierville};
    \node[lab] (tCottle) at (919,407) {Cottle};
    \node[lab] (tWarner) at (760,411) {Warnerville};
    \node[lab] (tMelones) at (968,455) {New\\[1pt]Melones};
    \node[lab] (tTracy) at (588,296) {Tracy};
    \node[lab] (tLlnl) at (639,284) {LLNL};
    \node[lab] (tTesla) at (406,443) {Tesla};
    \node[lab] (tWestley) at (616,428) {Westley};
    \node[lab] (tQuinto) at (615,503) {Quinto\\[1pt]SS};
    \node[slab] (tSanLuis) at (562,522) {San Luis PGP};
    \node[slab, align=center] (tSolarStar) at (639,538) {Solar\\Star XIII};
    \node[lab] (tLosBanos) at (477,545) {Los Banos};
    \node[slab] (tPadre) at (629,581.5) {Padre Flats\\SW STA};
    \node[slab] (tDos) at (632,601) {Dos Amigos};
    \node[lab] (tPanoche) at (643,627) {Panoche};
    \node[tlab] (tPanocheEc) at (544,649) {Panoche EC};
    \node[tlab] (tTranqPv) at (628,648) {Tranquillity PV};
    \node[lab] (tTranq) at (645,699) {Tranquillity SS};
    \node[lab] (tManning) at (540,704) {Manning};
    \node[lab] (tMetcalf) at (275,560) {Metcalf};
    \node[lab] (tMossHigh) at (286,631) {Moss Landing};
    \node[lab] (tMossLow) at (159,715) {Moss Landing};
    \node[lab] (tCoburn) at (273,710) {Coburn};
    \node[lab] (tAguilas) at (418,676) {Las Aguilas};
    \node[slab] (tPanocheV) at (393,719.5) {Panoche Valley\\Solar};
    \node[lab] (tWilson) at (734,480) {Wilson};
    \node[lab] (tStorey) at (828,524) {Storey};
    \node[lab] (tBorden) at (723,546) {Borden};
    \node[lab] (tGregg) at (732,573) {Gregg};
    \node[lab] (tHelms) at (885,548.5) {Helms\\[1pt]PGP};
    \node[lab] (tHerndon) at (825,595) {Herndon};
    \node[lab] (tAshlan) at (927,609) {Ashlan};
    \node[lab] (tMcMullin) at (725,645) {Mc Mullin};
    \node[lab] (tKearney) at (825,646) {Kearney};
    \node[lab] (tFigarden) at (886,648) {Figarden};
    \node[lab] (tHaas) at (996,641) {Haas};
    \node[lab] (tBalch) at (994,688) {Balch \#2};
    \node[lab] (tMcCall) at (836,693) {McCall};
    \node[lab] (tHelm) at (710,708) {Helm};
    \node[lab] (tPine) at (954,725) {Pine Flat};
    \node[lab] (tMustang) at (646,721) {Mustang SS};
    \node[slab] (tMustangPv) at (663,785) {Mustang\\PV};
    \node[lab] (tHenrietta) at (790,765) {Henrietta};
    \node[lab] (tGates) at (437,769) {Gates};
    \node[slab] (tGatesLow) at (556,764) {Gates\\230 kV};
    \node[lab] (tArco) at (639,809) {Arco};
    \node[lab] (tElk) at (652,849) {Elk Hills};
    \node[lab] (tBakers) at (802,876) {Bakersfield};
    \node[lab] (tKernPP) at (772,936) {Kern PP};
    \node[lab] (tStockdale) at (706,941) {Stockdale};
    \node[lab] (tSunset) at (653,950) {Sunset};
    \node[lab] (tPaloma) at (548,924) {La Paloma};
    \node[lab] (tSunrise) at (570,939) {Sunrise};
    \node[lab] (tBuena) at (568,967) {Buena\\[1pt]Vista PP};
    \node[lab] (tWheelerPP) at (623,1012.5) {Wheeler\\[1pt]Ridge PP};
    \node[lab] (tWindgap) at (688,1015.5) {Windgap\\[1pt]PP};
    \node[lab] (tWheeler) at (762,1002) {Wheeler\\[1pt]Ridge};
    \node[lab] (tMidway) at (461,879) {Midway};
    \node[lab] (tCaliente) at (378,845) {Caliente SS};
    \node[lab] (tSolarSS) at (264,847) {Solar SS};
    \node[lab] (tTopaz) at (232,885) {Topaz};
    \node[lab] (tCvsr) at (367,914) {CVSR};
    \node[lab] (tMorro) at (167,810) {Morro Bay};
    \node[lab] (tTempleton) at (235,784) {Templeton};
    \node[lab] (tCalFlats) at (312,788) {Cal. Flats};
    \node[lab] (tDiablo) at (174,911.5) {Diablo\\[1pt]500 kV};
    \node[lab] (tDiabloLow) at (77,935.5) {Diablo\\[1pt]230 kV};
    \node[lab] (tMesa) at (97,970) {Mesa};
    \node[lab] (tVincent) at (476,1003) {To Vincent};
    \node[lab] (tWhirlwind) at (513,1022) {To Whirlwind};

    \draw[draw=black, line width=3.6pt, fill=areatint, fill opacity=.3, smooth cycle, tension=.55]
        plot coordinates {(433,21) (477,21) (510,32) (530,57) (535,100) (540,183) (543,260) (552,290)
            (558,293) (583,283) (617,268) (637,270) (657,283) (660,300) (652,330) (645,350) (638,377)
            (638,400) (657,437) (691,463) (711,472) (774,476) (858,477) (924,483) (974,497) (1018,517)
            (1034,547) (1044,585) (1062,640) (1044,682) (1034,700) (1011,720) (958,740) (928,747) (908,767)
            (888,800) (876,837) (874,867) (876,897) (871,934) (854,974) (824,1007) (784,1032) (734,1040)
            (691,1039) (633,1035) (590,1025) (580,1017) (573,1002) (550,989) (513,974) (483,965) (433,962)
            (383,970) (350,979) (233,994) (143,1007) (117,1009) (90,1004) (67,989) (53,964) (49,930) (55,870)
            (80,787) (105,700) (123,660) (150,630) (183,615) (233,613) (290,613) (327,607) (350,598) (363,587)
            (378,553) (385,517) (378,450) (383,387) (400,363) (423,355) (450,355) (465,350) (478,330) (475,293)
            (460,227) (457,193) (460,153) (457,123) (440,108) (413,106) (397,100) (390,83) (400,35)};

    \node[rectangle, draw=black!75, fill=white, line width=1pt, minimum width=111pt, minimum height=129pt] (legendBox) at (175.5,238.5) {};
    \node[leg, font=\bfseries\fontsize{12.5}{13}\selectfont] (legTitle) at (173,186) {\underline{Legend}};
    \node[leg] (leg500) at (148,205) {500 kV};
    \node[leg] (leg230) at (148,221) {230 kV};
    \node[leg] (leg115) at (146,237) {115 kV};
    \node[leg] (leg60) at (150,253) {60/70 kV};
    \node[leg] (legCon) at (150,272) {Constraint};
    \node[leg] (legArea) at (155,291) {Defined Area};
    \node[ellipse, draw=black!80, line width=1pt, fill=areatint!35!white, minimum width=15pt, minimum height=12pt, inner sep=0pt] (legAreaMark) at (200,292) {};
    \coordinate (legEnd) at (218.5,0);
    \draw[liner, line width=1.6pt] (181,207) -- (legEnd |- 0,207);
    \draw[lineb, line width=1.8pt] (183,223) -- (legEnd |- 0,223);
    \draw[linem, line width=1.6pt] (183,238) -- (legEnd |- 0,238);
    \draw[lineg, line width=1.6pt] (187,254) -- (legEnd |- 0,254);
    \draw[gold, line width=7pt, line cap=round] (186,273) -- (legEnd |- 0,273);
    \draw[black, line width=2pt] (187,273) -- (legEnd |- 0,273);

    \draw[black!85, line width=2pt] (10.5,1047) -- (10.5,5.5) -- (1041,5.5);
\end{tikzpicture}
\end{document}
